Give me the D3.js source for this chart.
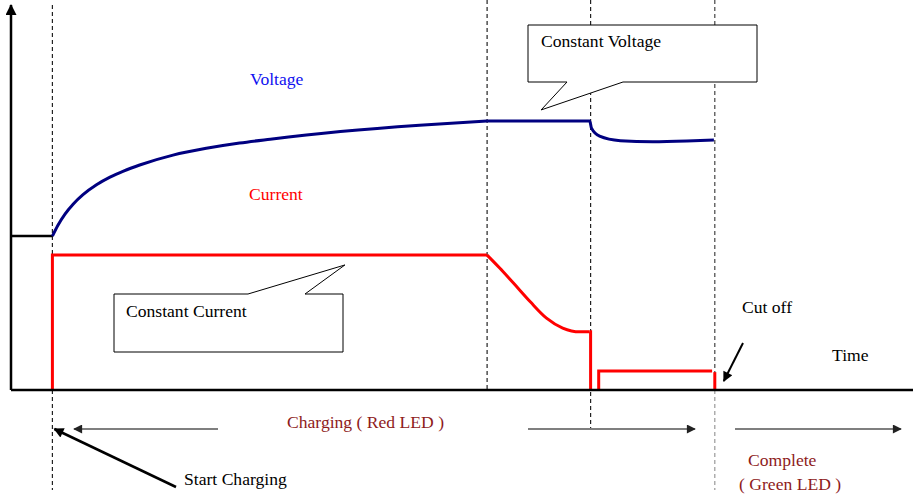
<!DOCTYPE html>
<meta charset="utf-8">
<style>
body { margin: 0; background: #fff; }
text { font-family: "Liberation Serif", "Times New Roman", serif; font-size: 17.6px; }
</style>
<svg width="913" height="497"></svg>
<script src="https://d3js.org/d3.v7.min.js"></script>
<script>

// phase boundaries (time units)
var tStart = 4.6, tCV = 52.9, tDrop = 64.4, tTrickle = 65.3, tCut = 78.2;

// battery voltage before charging
var preVoltage = [[0, 40.5], [4.6, 40.5]];

// voltage during constant current
var voltageCC = [
  [4.6, 40.5], [5.2, 43.3], [6.0, 46.3], [6.9, 48.9], [8.0, 51.4], [9.5, 54.0],
  [11.0, 56.0], [12.5, 57.6], [14.3, 59.2], [18.0, 61.8], [21.7, 63.6],
  [25.4, 65.0], [28.8, 66.0], [36.6, 68.0], [45.4, 69.7], [52.9, 70.8]
];

// voltage during constant voltage and after
var voltageCV = [
  [52.9, 70.8], [64.3, 70.8], [64.5, 68.9], [65.4, 66.8], [67.7, 65.6],
  [71.3, 65.3], [75.1, 65.5], [78.1, 65.8]
];

// current pieces
var currentCC = [[4.6, 0], [4.6, 35.5], [52.9, 35.5]];
var currentTaper = [
  [52.9, 35.5], [54.3, 32.1], [55.8, 28.2], [57.7, 23.2], [59.5, 18.9],
  [61.3, 16.3], [63.2, 15.3], [64.3, 15.3]
];
var currentOff = [[64.3, 15.3], [64.4, 15.3], [64.4, 0]];
var currentTrickle = [[65.3, 0], [65.3, 5.0], [77.9, 5.0]];
var currentCut = [[78.2, 4.7], [78.2, 0]];

var svg = d3.select("svg");

var x = d3.scaleLinear().domain([0, 100]).range([11, 911]);
var y = d3.scaleLinear().domain([0, 100]).range([390, 10]);

var defs = svg.append("defs");
function marker(id, color, w, h) {
  defs.append("marker")
      .attr("id", id)
      .attr("viewBox", "0 0 10 10")
      .attr("refX", 9).attr("refY", 5)
      .attr("markerWidth", w).attr("markerHeight", h)
      .attr("markerUnits", "userSpaceOnUse")
      .attr("orient", "auto")
    .append("path")
      .attr("d", "M0,0L10,5L0,10Z")
      .attr("fill", color);
}
marker("arrGray", "#222", 13, 9);
marker("arrBlack", "#000", 14, 10);
marker("arrAxis", "#000", 14, 11);

// dashed phase lines
var guides = [
  {t: tStart, y0: 5, y1: 490, c: "#222"},
  {t: tCV, y0: 0, y1: 390, c: "#222"},
  {t: tDrop, y0: 0, y1: 428, c: "#222"},
  {t: tCut, y0: 0, y1: 390, c: "#444"},
  {t: tCut, y0: 390, y1: 490, c: "#999"}
];
svg.selectAll(".guide")
  .data(guides)
  .join("line")
    .attr("class", "guide")
    .attr("x1", d => x(d.t)).attr("x2", d => x(d.t))
    .attr("y1", d => d.y0).attr("y2", d => d.y1)
    .attr("stroke", d => d.c)
    .attr("stroke-width", 1.2)
    .attr("stroke-dasharray", "4,3");

var lineLin = d3.line().x(d => x(d[0])).y(d => y(d[1]));
var lineSmooth = d3.line().x(d => x(d[0])).y(d => y(d[1])).curve(d3.curveMonotoneX);

// current
[currentCC, currentOff, currentTrickle, currentCut].forEach(function(seg) {
  svg.append("path")
      .attr("d", lineLin(seg))
      .attr("fill", "none")
      .attr("stroke", "#ff0000")
      .attr("stroke-width", 3)
      .attr("stroke-linejoin", "miter");
});
svg.append("path")
    .attr("d", lineSmooth(currentTaper))
    .attr("fill", "none")
    .attr("stroke", "#ff0000")
    .attr("stroke-width", 3);

// voltage
svg.append("path")
    .attr("d", lineLin(preVoltage))
    .attr("fill", "none")
    .attr("stroke", "#000")
    .attr("stroke-width", 2.5);
[voltageCC, voltageCV].forEach(function(seg) {
  svg.append("path")
      .attr("d", lineSmooth(seg))
      .attr("fill", "none")
      .attr("stroke", "#000080")
      .attr("stroke-width", 3);
});

// axes
svg.append("line")
    .attr("x1", x(0)).attr("x2", 913)
    .attr("y1", y(0)).attr("y2", y(0))
    .attr("stroke", "#000").attr("stroke-width", 2.5);
svg.append("line")
    .attr("x1", x(0)).attr("x2", x(0))
    .attr("y1", y(0)).attr("y2", 5)
    .attr("stroke", "#000").attr("stroke-width", 2.5)
    .attr("marker-end", "url(#arrAxis)");

// labels on the curves
svg.append("text").attr("x", 250).attr("y", 85).attr("fill", "#1010f0").text("Voltage");
svg.append("text").attr("x", 249).attr("y", 200).attr("fill", "#ff0000").text("Current");

// callouts
svg.append("path")
    .attr("d", "M528,25H757V82H623L" + x(58.9) + "," + y(73.7) + "L567,82H528Z")
    .attr("fill", "#fff").attr("stroke", "#000").attr("stroke-width", 1);
svg.append("text").attr("x", 541).attr("y", 47).text("Constant Voltage");

svg.append("path")
    .attr("d", "M114,294H248L" + x(37.1) + "," + y(32.9) + "L305,294H343V352H114Z")
    .attr("fill", "#fff").attr("stroke", "#000").attr("stroke-width", 1);
svg.append("text").attr("x", 126).attr("y", 317).text("Constant Current");

svg.append("text").attr("x", 742).attr("y", 313).text("Cut off");
svg.append("text").attr("x", 832).attr("y", 361).text("Time");
svg.append("line")
    .attr("x1", 743).attr("y1", 343).attr("x2", x(tCut) + 9).attr("y2", 381)
    .attr("stroke", "#000").attr("stroke-width", 2)
    .attr("marker-end", "url(#arrBlack)");

// bottom phase arrows
var ay = 429;
var phaseArrows = [[218, 74], [528, 695], [735, 901]];
svg.selectAll(".phase")
  .data(phaseArrows)
  .join("line")
    .attr("class", "phase")
    .attr("x1", d => d[0]).attr("x2", d => d[1])
    .attr("y1", ay).attr("y2", ay)
    .attr("stroke", "#555").attr("stroke-width", 1.5)
    .attr("marker-end", "url(#arrGray)");

var dark = "#8e1b1b";
svg.append("text").attr("x", 287).attr("y", 428).attr("fill", dark).text("Charging ( Red LED )");
svg.append("text").attr("x", 748).attr("y", 466).attr("fill", dark).text("Complete");
svg.append("text").attr("x", 739).attr("y", 490).attr("fill", dark).text("( Green LED )");

svg.append("text").attr("x", 184).attr("y", 485).text("Start Charging");
svg.append("line")
    .attr("x1", 176).attr("y1", 487).attr("x2", x(tStart) + 2).attr("y2", 429)
    .attr("stroke", "#000").attr("stroke-width", 2.5)
    .attr("marker-end", "url(#arrBlack)");

</script>
